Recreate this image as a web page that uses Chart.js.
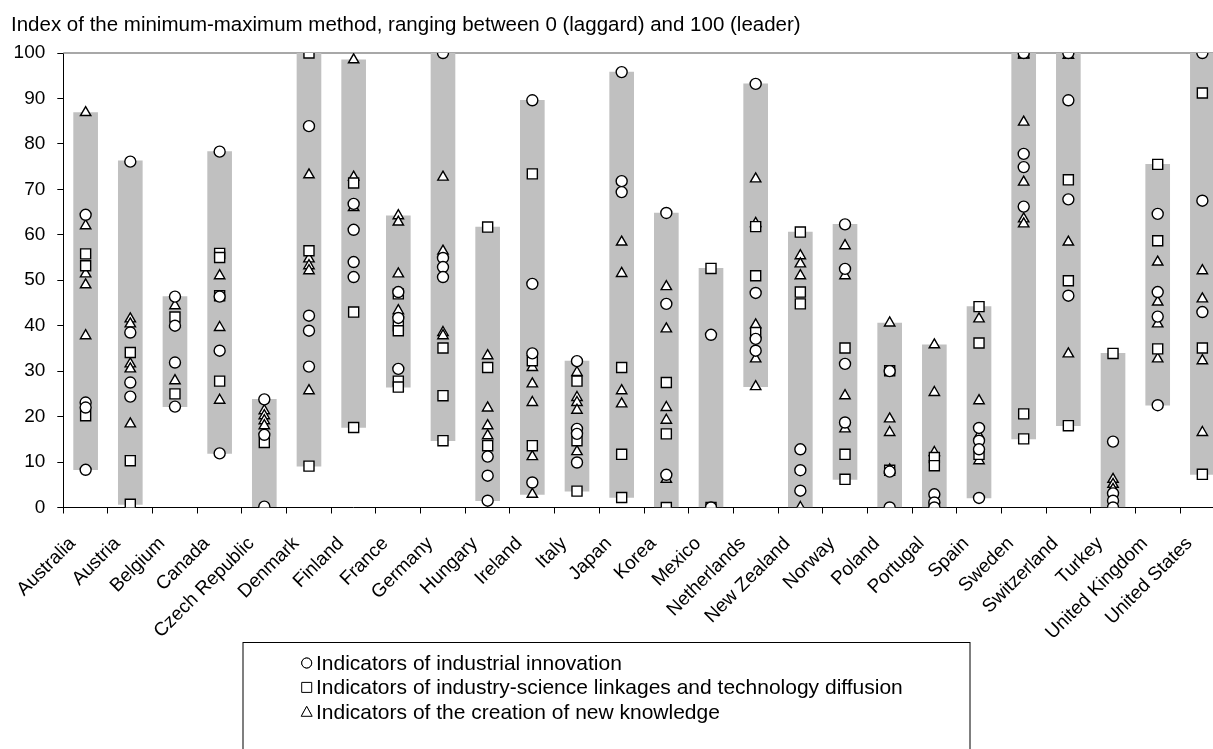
<!DOCTYPE html>
<html>
<head>
<meta charset="utf-8">
<script src="https://cdn.jsdelivr.net/npm/chart.js@4.4.1/dist/chart.umd.min.js"></script>
<style>
html,body{margin:0;padding:0;overflow:hidden;background:#fff;width:1213px;height:749px}
canvas{display:block}
</style>
</head>
<body>
<canvas id="c" width="1240" height="749"></canvas>
<script>
const titleText = 'Index of the minimum-maximum method, ranging between 0 (laggard) and 100 (leader)';
const seriesLabels = [
  'Indicators of industrial innovation',
  'Indicators of industry-science linkages and technology diffusion',
  'Indicators of the creation of new knowledge'
];
const countries = ['Australia','Austria','Belgium','Canada','Czech Republic','Denmark','Finland','France','Germany','Hungary','Ireland','Italy','Japan','Korea','Mexico','Netherlands','New Zealand','Norway','Poland','Portugal','Spain','Sweden','Switzerland','Turkey','United Kingdom','United States'];
const yTicks = [0,10,20,30,40,50,60,70,80,90,100];

// range (grey bar) for each country
const rangeLow  = [8.3, 0.7, 22.2, 11.9, 0.2, 9.1, 17.6, 26.5, 14.7, 1.5, 2.9, 3.6, 2.2, 0, 0, 26.6, 0, 6.2, 0, 0, 2.1, 15.1, 18.0, 0, 22.5, 7.3];
const rangeHigh = [86.9, 76.3, 46.4, 78.3, 23.8, 100, 98.5, 64.2, 100, 61.7, 89.6, 32.2, 95.8, 64.8, 52.6, 93.2, 60.6, 62.3, 40.6, 35.8, 44.2, 100, 100, 33.9, 75.5, 100];

// circles: indicators of industrial innovation
const innovation = [
  [64.4, 23.1, 22.0, 8.3],
  [76.1, 38.5, 27.5, 24.4],
  [46.4, 40.0, 31.9, 22.2],
  [78.3, 46.4, 34.5, 11.9],
  [23.8, 16.0, 0.2],
  [83.9, 42.2, 38.9, 31.0],
  [66.8, 61.1, 54.0, 50.7],
  [47.4, 41.7, 30.5],
  [100, 54.9, 52.9, 50.7],
  [11.2, 7.0, 1.5],
  [89.6, 49.2, 33.9, 5.5],
  [32.2, 17.3, 16.2, 9.9],
  [95.8, 71.8, 69.4],
  [64.8, 44.8, 7.2],
  [38.0, 0],
  [93.2, 47.2, 37.1, 34.5],
  [12.8, 8.2, 3.7],
  [62.3, 52.5, 31.6, 18.7],
  [30.0, 7.9, 0],
  [2.9, 1.1, 0],
  [17.5, 14.7, 12.8, 2.1],
  [100, 77.8, 74.9, 66.2],
  [100, 89.6, 67.8, 46.6],
  [14.5, 3.1, 1.5, 0],
  [64.6, 47.4, 42.0, 22.5],
  [100, 67.5, 43.0]
];
// squares: indicators of industry-science linkages and technology diffusion
const linkages = [
  [55.8, 53.2, 20.2],
  [34.1, 10.3, 0.7],
  [41.9, 25.0],
  [55.9, 55.0, 46.6, 27.8],
  [14.3],
  [100, 56.5, 9.1],
  [71.4, 43.0, 17.6],
  [47.0, 40.0, 38.9, 27.8, 26.5],
  [35.1, 24.6, 14.7],
  [61.7, 30.8, 13.6],
  [73.4, 32.3, 13.6],
  [27.8, 14.7, 3.6],
  [30.8, 11.7, 2.2],
  [27.5, 16.2, 0],
  [52.6, 0],
  [61.8, 51.0, 38.5],
  [60.6, 47.4, 44.8],
  [35.1, 11.7, 6.2],
  [30.1, 8.2],
  [11.0, 9.2, 0],
  [44.2, 36.2, 11.7],
  [100, 20.6, 15.1],
  [72.1, 49.9, 18.0],
  [33.9],
  [75.5, 58.7, 34.9],
  [91.2, 35.1, 7.3]
];
// triangles: indicators of the creation of new knowledge
const knowledge = [
  [86.9, 62.0, 51.4, 49.0, 37.8],
  [41.5, 40.4, 31.6, 30.5, 18.4],
  [44.4, 40.5, 27.9],
  [51.0, 39.6, 23.6],
  [21.3, 20.2, 19.1, 18.0],
  [73.2, 54.7, 53.2, 52.1, 25.7],
  [98.5, 72.7, 66.0],
  [64.2, 62.8, 51.4, 43.3],
  [72.7, 56.4, 38.5, 37.8],
  [33.4, 21.9, 18.0, 15.8],
  [30.8, 27.2, 23.1, 11.2, 2.9],
  [29.7, 24.2, 23.1, 21.4, 12.3],
  [58.4, 51.5, 25.7, 22.8],
  [48.6, 39.3, 22.0, 19.2, 6.2],
  [],
  [72.3, 62.5, 40.2, 32.7, 26.6],
  [55.4, 53.6, 51.0, 0],
  [57.6, 51.0, 24.6, 17.3],
  [40.6, 19.5, 16.5, 8.3],
  [35.8, 25.3, 12.1],
  [41.5, 23.5, 15.8, 10.3],
  [99.6, 84.8, 71.6, 63.5, 62.4],
  [99.5, 58.4, 33.8],
  [6.2, 5.1, 4.0],
  [54.0, 45.2, 40.4, 32.7],
  [52.1, 45.9, 32.3, 16.5]
];

const FONT = "'Liberation Sans', Arial, Helvetica, sans-serif";
const toPoints = (arr) => arr.flatMap((vals, i) => vals.map(v => ({ x: countries[i], y: v })));

const markerStyle = (style, radius) => ({
  type: 'line',
  showLine: false,
  pointStyle: style,
  pointRadius: radius,
  pointHoverRadius: radius,
  pointBorderWidth: 1.4,
  pointBorderColor: '#000',
  pointBackgroundColor: '#fff',
  borderColor: '#000',
  backgroundColor: '#fff'
});

const frameLine = {
  id: 'frameLine',
  beforeDatasetsDraw(chart) {
    const { ctx, chartArea: a } = chart;
    ctx.save();
    ctx.strokeStyle = '#8c8c8c';
    ctx.lineWidth = 1.3;
    ctx.beginPath();
    ctx.moveTo(a.left, a.top);
    ctx.lineTo(a.right, a.top);
    ctx.lineTo(a.right, a.bottom);
    ctx.stroke();
    ctx.restore();
  }
};

const boxLegend = {
  id: 'boxLegend',
  afterDraw(chart, args, opts) {
    const ctx = chart.ctx;
    ctx.save();
    ctx.strokeStyle = '#000';
    ctx.lineWidth = 1;
    ctx.strokeRect(opts.left + 0.5, opts.top + 0.5, opts.width, 200);
    ctx.font = opts.fontSize + 'px ' + FONT;
    ctx.fillStyle = '#000';
    ctx.textBaseline = 'alphabetic';
    ctx.textAlign = 'left';
    chart.data.datasets.forEach((ds) => {
      if (ds.legendRow === undefined) return;
      const yBase = opts.firstBaseline + ds.legendRow * opts.rowGap;
      const cy = yBase - 7;
      Chart.helpers.drawPoint(ctx, {
        pointStyle: ds.pointStyle,
        radius: ds.legendRadius,
        borderWidth: 1,
        rotation: 0
      }, opts.markerX, cy);
      ctx.fillStyle = '#fff';
      ctx.strokeStyle = '#000';
      ctx.lineWidth = 1;
      ctx.beginPath();
      if (ds.pointStyle === 'circle') {
        ctx.arc(opts.markerX, cy, ds.legendRadius, 0, Math.PI * 2);
      } else if (ds.pointStyle === 'rect') {
        ctx.rect(opts.markerX - 5, cy - 5, 10, 10);
      } else {
        ctx.moveTo(opts.markerX, cy - 5.5);
        ctx.lineTo(opts.markerX + 5.5, cy + 4.5);
        ctx.lineTo(opts.markerX - 5.5, cy + 4.5);
        ctx.closePath();
      }
      ctx.fill();
      ctx.stroke();
      ctx.fillStyle = '#000';
      ctx.fillText(ds.label, opts.textX, yBase);
    });
    ctx.restore();
  }
};

new Chart(document.getElementById('c'), {
  data: {
    labels: countries,
    datasets: [
      Object.assign(markerStyle('circle', 5.5), { label: seriesLabels[0], data: toPoints(innovation), order: 0, legendRow: 0, legendRadius: 5 }),
      Object.assign(markerStyle('rect', 7.1), { label: seriesLabels[1], data: toPoints(linkages), order: 1, legendRow: 1, legendRadius: 5 }),
      Object.assign(markerStyle('triangle', 6), { label: seriesLabels[2], data: toPoints(knowledge), order: 2, legendRow: 2, legendRadius: 5 }),
      {
        type: 'bar',
        label: 'Range',
        data: countries.map((c, i) => [rangeLow[i], rangeHigh[i]]),
        backgroundColor: '#c0c0c0',
        borderWidth: 0,
        barThickness: 24,
        order: 3
      }
    ]
  },
  options: {
    responsive: false,
    animation: false,
    events: [],
    layout: { padding: { left: 11, right: 15.3, top: 0, bottom: 0 } },
    plugins: {
      legend: { display: false },
      tooltip: { enabled: false },
      title: {
        display: true,
        text: titleText,
        align: 'start',
        color: '#000',
        font: { family: FONT, size: 20.5, weight: 'normal', lineHeight: 1.2 },
        padding: { top: 12.9, bottom: 15.5 }
      },
      boxLegend: { left: 242.5, top: 642, width: 727, markerX: 306.7, textX: 316, firstBaseline: 670, rowGap: 24.4, fontSize: 21 }
    },
    scales: {
      x: {
        type: 'category',
        offset: true,
        grid: { display: true, offset: true, drawOnChartArea: false, drawTicks: true, tickLength: 6, color: '#000', lineWidth: 1 },
        border: { display: true, color: '#000', width: 1 },
        ticks: {
          autoSkip: false,
          minRotation: 45,
          maxRotation: 45,
          color: '#000',
          padding: 19,
          labelOffset: -13,
          font: { family: FONT, size: 19 }
        },
        afterFit(scale) { scale.height = 241.5; }
      },
      y: {
        min: 0,
        max: 100,
        afterBuildTicks(scale) { scale.ticks = yTicks.map(v => ({ value: v })); },
        grid: { display: true, drawOnChartArea: false, drawTicks: true, tickLength: 6, color: '#000', lineWidth: 1 },
        border: { display: true, color: '#000', width: 1 },
        ticks: { color: '#000', padding: 12, font: { family: FONT, size: 19 } },
        afterFit(scale) { scale.width = 52.3; }
      }
    }
  },
  plugins: [frameLine, boxLegend]
});
</script>
</body>
</html>
